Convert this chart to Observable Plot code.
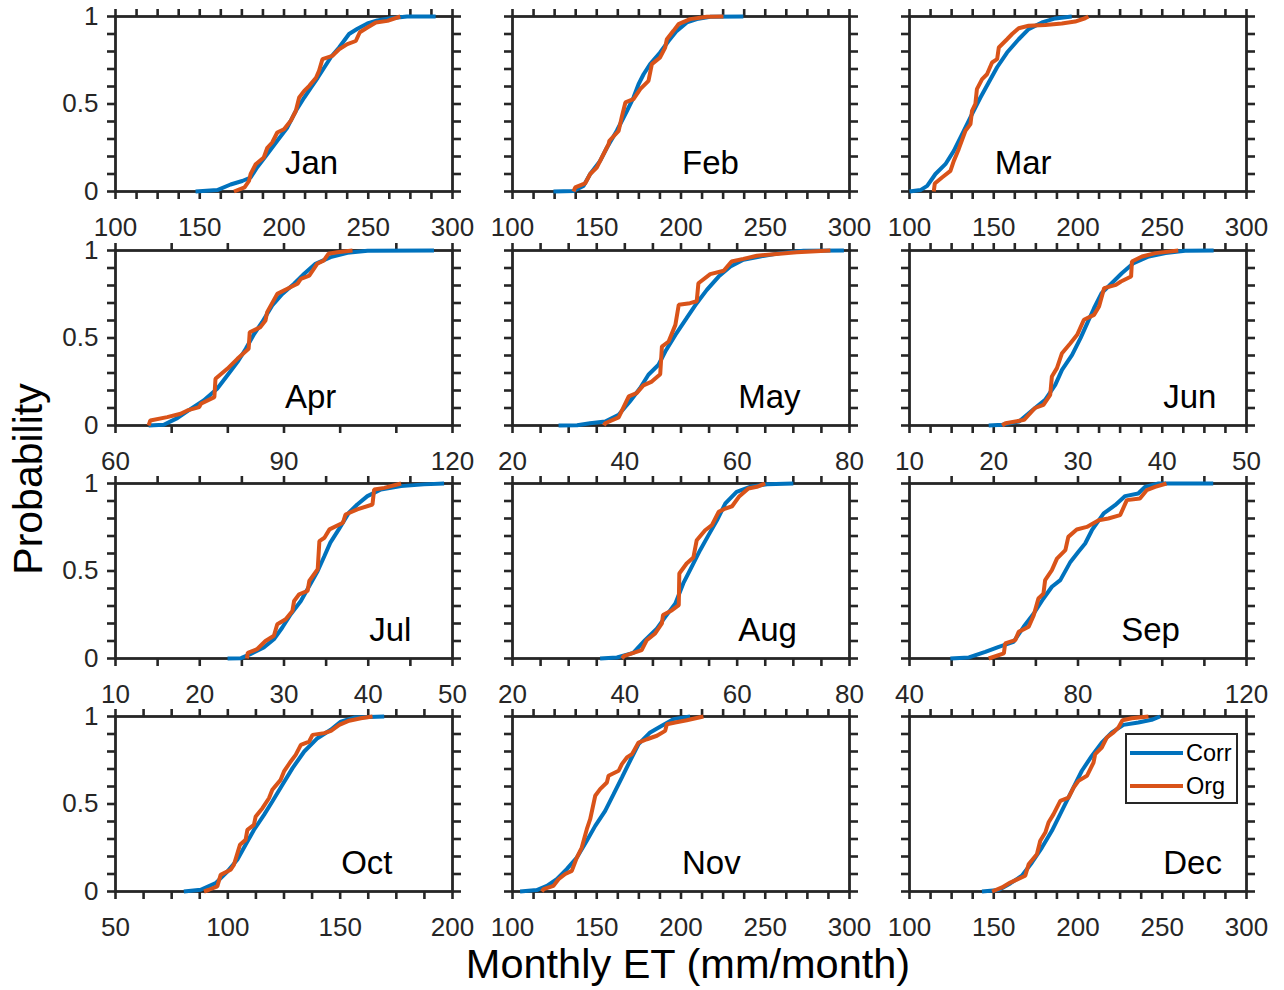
<!DOCTYPE html>
<html>
<head>
<meta charset="utf-8">
<script src="https://cdn.jsdelivr.net/npm/d3@7"></script>
<script src="https://cdn.jsdelivr.net/npm/@observablehq/plot@0.6"></script>
<style>
  body { margin: 0; background: #fff; }
  #fig { position: relative; width: 1284px; height: 990px; overflow: hidden; font-family: "Liberation Sans", Arial, sans-serif; }
  #fig > svg, #fig > div { position: absolute; }
  #fig g[aria-label$="tick"] { stroke-width: 2.6px; }
  #fig g[aria-label="frame"], #fig g[aria-label="frame"] * { stroke-width: 2.8px; }
</style>
</head>
<body>
<div id="fig"></div>
<script>
// ---------- data ----------
const months = ["Jan","Feb","Mar","Apr","May","Jun","Jul","Aug","Sep","Oct","Nov","Dec"];
const seriesNames = ["Corr", "Org"];
const xDomains = [[100,300],[100,300],[100,300],[60,120],[20,80],[10,50],[10,50],[20,80],[40,120],[50,200],[100,300],[100,300]];
const xMajorTicks = [
  [100,150,200,250,300],[100,150,200,250,300],[100,150,200,250,300],
  [60,90,120],[20,40,60,80],[10,20,30,40,50],
  [10,20,30,40,50],[20,40,60,80],[40,80,120],
  [50,100,150,200],[100,150,200,250,300],[100,150,200,250,300]
];
const xMinorStep = [12.5,12.5,12.5,10,5,2.5,5,5,10,12.5,12.5,12.5];
const yTickLabels = [0, 0.5, 1];
const monthLabelX = [200,200,150,90,60,40,40,60,90,150,200,250];
const monthLabelP = 0.1;

const corrJan = [[147.5,0],[160.4,0.008],[168.3,0.04],[175.2,0.06],[180.2,0.08],[184,0.137],[190,0.213],[196,0.29],[202,0.366],[207,0.46],[212,0.537],[216,0.594],[220,0.65],[224,0.71],[228,0.77],[232.7,0.823],[238.6,0.9],[243.6,0.93],[249.5,0.96],[255.4,0.977],[263.4,0.99],[273,1],[290,1]];
const orgJan = [[170.3,0],[176.6,0.023],[179.2,0.06],[180.2,0.1],[183.2,0.156],[188,0.194],[190.1,0.25],[193,0.28],[196,0.337],[200,0.356],[204,0.404],[207,0.46],[209,0.537],[212,0.575],[215,0.604],[219,0.65],[220.8,0.69],[222.8,0.756],[228.7,0.775],[232.7,0.813],[237.6,0.842],[242.6,0.86],[245,0.91],[249.5,0.937],[254.5,0.966],[261.4,0.975],[269,1]];
const corrFeb = [[124.3,0],[136.2,0.003],[142.1,0.032],[146.1,0.1],[152,0.175],[156,0.25],[161.9,0.347],[167.9,0.46],[171.8,0.537],[174.8,0.613],[177.8,0.67],[181.7,0.728],[187.6,0.794],[192.6,0.86],[197.5,0.918],[203.5,0.966],[209.4,0.985],[217.3,0.998],[237,1]];
const orgFeb = [[136.2,0],[137.2,0.023],[143.1,0.046],[146.1,0.1],[150,0.137],[154,0.213],[157,0.27],[157.5,0.29],[163,0.347],[165,0.432],[167,0.509],[171.8,0.528],[175.8,0.585],[180.7,0.632],[182.7,0.728],[187.6,0.766],[190.6,0.823],[191.6,0.87],[195.5,0.918],[198.5,0.956],[205.4,0.985],[215.3,0.998],[225.2,1]];
const corrMar = [[100,0],[106.5,0.008],[110.5,0.032],[115.4,0.1],[121.3,0.156],[126.3,0.232],[132.2,0.347],[137.1,0.442],[142.1,0.537],[147,0.623],[152,0.71],[157.9,0.794],[164.8,0.87],[170.7,0.928],[178.6,0.966],[186.5,0.989],[196.3,1]];
const orgMar = [[114.4,0],[115,0.046],[119.3,0.08],[124.3,0.118],[126.3,0.175],[129.2,0.242],[133.2,0.347],[136.2,0.385],[137.1,0.461],[139.1,0.5],[140,0.585],[143.1,0.642],[146,0.67],[149,0.737],[152,0.756],[153,0.823],[157.9,0.87],[160.9,0.9],[164.8,0.933],[170.7,0.947],[180.6,0.952],[190.4,0.96],[198.3,0.971],[204.2,0.99],[206.2,1]];
const corrApr = [[65.9,0],[68.6,0.004],[71,0.042],[73.4,0.095],[75.7,0.143],[78.1,0.21],[79.9,0.286],[81.7,0.362],[83.2,0.438],[84.7,0.524],[86.1,0.59],[87.9,0.686],[89.7,0.752],[91.8,0.81],[93.6,0.867],[95.6,0.924],[98.3,0.962],[101.3,0.987],[104.9,0.998],[116.7,1]];
const orgApr = [[65.9,0],[66.2,0.029],[69.2,0.048],[71.6,0.067],[72.8,0.086],[74.9,0.105],[75.2,0.124],[77.6,0.162],[77.8,0.267],[79.9,0.324],[81.7,0.381],[83.7,0.438],[83.9,0.533],[85.8,0.562],[86.7,0.6],[87,0.648],[88.8,0.752],[90.6,0.781],[92.4,0.81],[93,0.838],[94.5,0.857],[95.9,0.924],[97.1,0.943],[97.9,0.981],[99.5,0.99],[102.2,1]];
const corrMay = [[28.2,0],[31.5,0.002],[33.8,0.013],[36.5,0.023],[38.9,0.061],[40.9,0.137],[42.7,0.213],[44.2,0.29],[46,0.347],[47.2,0.423],[49,0.518],[51,0.613],[52.8,0.699],[54.6,0.775],[56.7,0.851],[58.8,0.909],[61.1,0.947],[64.1,0.966],[67.7,0.985],[71.8,0.998],[79,1]];
const orgMay = [[36.3,0],[36.5,0.013],[38.9,0.046],[40.7,0.166],[42.1,0.185],[43.3,0.229],[44.8,0.251],[46.3,0.293],[46.6,0.451],[47.8,0.48],[49,0.575],[49.6,0.69],[51.6,0.699],[52.8,0.71],[53.1,0.813],[55.2,0.865],[57.6,0.884],[59,0.937],[61.1,0.952],[63.5,0.97],[66.5,0.979],[70.6,0.99],[76.6,1]];
const corrJun = [[19.4,0],[21,0.004],[23,0.023],[24.9,0.1],[26.1,0.147],[27.3,0.232],[28.1,0.318],[29.3,0.404],[30.3,0.499],[31.1,0.585],[31.9,0.67],[32.8,0.756],[34,0.813],[35.2,0.87],[36.6,0.928],[38.4,0.966],[40.4,0.985],[42.7,0.998],[46.1,1]];
const orgJun = [[21,0],[21.4,0.013],[23.6,0.032],[24.9,0.1],[25.9,0.118],[26.7,0.175],[26.9,0.28],[27.5,0.328],[28.1,0.413],[29.1,0.47],[29.9,0.518],[30.7,0.604],[31.9,0.632],[32.5,0.68],[33.1,0.785],[34.5,0.804],[35.1,0.823],[36.3,0.851],[36.4,0.937],[37.6,0.966],[39.2,0.985],[41.9,1]];
const corrJul = [[23.3,0],[24.9,0.002],[26,0.025],[27.6,0.063],[28.8,0.11],[29.8,0.177],[30.8,0.253],[32,0.329],[33,0.414],[34,0.5],[34.8,0.586],[35.5,0.662],[36.5,0.738],[37.7,0.833],[38.7,0.88],[39.9,0.928],[41.5,0.966],[43.9,0.985],[46.6,0.995],[49,1]];
const orgJul = [[25.6,0],[25.7,0.032],[26.8,0.053],[27.8,0.1],[28.8,0.13],[29.2,0.196],[30.2,0.224],[31,0.272],[31.2,0.329],[31.8,0.367],[32.8,0.386],[33,0.443],[34,0.51],[34.2,0.671],[34.8,0.69],[35.4,0.738],[37,0.776],[37.3,0.823],[38.7,0.852],[40.5,0.88],[40.7,0.966],[41.9,0.975],[43.9,1]];
const corrAug = [[35.6,0],[38.6,0.006],[41.5,0.032],[43.6,0.105],[45.7,0.171],[47.2,0.238],[49,0.314],[50.4,0.429],[51.9,0.524],[53.4,0.619],[54.9,0.705],[56.4,0.79],[57.9,0.886],[59.9,0.952],[62.3,0.981],[65.3,0.996],[70,1]];
const orgAug = [[39.5,0],[39.8,0.013],[43,0.048],[43.9,0.105],[45.4,0.143],[46.6,0.2],[46.8,0.248],[48.4,0.276],[49.6,0.305],[49.7,0.486],[51,0.543],[52.2,0.577],[52.8,0.676],[54.3,0.733],[55.5,0.762],[56.7,0.838],[57.9,0.857],[59.1,0.87],[60.3,0.924],[62,0.971],[63.5,0.981],[65,1]];
const corrSep = [[49.7,0],[54.1,0.006],[58,0.038],[61.2,0.067],[64.7,0.095],[67.1,0.181],[69.5,0.257],[71.8,0.343],[73.8,0.41],[75.8,0.448],[78.2,0.552],[80.1,0.61],[81.7,0.657],[83.3,0.733],[86.1,0.829],[88.8,0.876],[91.2,0.928],[94.3,0.943],[95.9,0.981],[99.1,1],[112.1,1]];
const orgSep = [[58.8,0],[62.4,0.029],[62.7,0.086],[65.1,0.105],[65.9,0.152],[68.3,0.181],[69.5,0.248],[70.6,0.343],[71.8,0.371],[72.2,0.448],[73.8,0.505],[75,0.571],[77,0.619],[77.7,0.695],[79.7,0.737],[82.1,0.752],[84.9,0.79],[87.2,0.8],[90,0.819],[91.6,0.905],[94.7,0.914],[96.3,0.962],[98.3,0.981],[101,1]];
const corrOct = [[80.4,0],[87.9,0.01],[94.6,0.048],[99.8,0.114],[104.2,0.181],[107.9,0.267],[111.6,0.352],[116.1,0.438],[119.8,0.514],[124.3,0.61],[128.8,0.705],[134,0.8],[139.9,0.876],[145.8,0.924],[150.3,0.971],[156.2,0.994],[169.6,1]];
const orgOct = [[89.4,0],[91.6,0.01],[95.3,0.029],[96.8,0.095],[101.2,0.124],[102.7,0.152],[105.4,0.267],[107.9,0.295],[108.7,0.352],[111.6,0.381],[112.4,0.429],[115.4,0.476],[118.3,0.533],[119.8,0.581],[123.5,0.638],[125,0.686],[128,0.743],[130.2,0.781],[132.5,0.838],[136.2,0.857],[137.7,0.895],[142.9,0.905],[145.9,0.918],[149.6,0.952],[154,0.976],[159.2,0.99],[164.4,1]];
const corrNov = [[104.5,0],[114.4,0.008],[120.4,0.032],[126.3,0.07],[132.2,0.128],[138.2,0.194],[144.1,0.29],[149.1,0.375],[155,0.461],[160,0.556],[164.9,0.651],[169.8,0.747],[174.8,0.842],[181.7,0.909],[188.6,0.947],[195.5,0.985],[205.4,1]];
const orgNov = [[117.4,0],[118.4,0.013],[124.3,0.032],[127.3,0.07],[131.3,0.1],[135.2,0.118],[138.2,0.194],[141.1,0.251],[144.1,0.356],[146.1,0.413],[149.1,0.547],[152,0.585],[156,0.623],[157,0.661],[163,0.69],[164.9,0.728],[167.9,0.766],[170.9,0.785],[174.8,0.851],[179.8,0.87],[185.7,0.89],[190.6,0.918],[191.6,0.956],[196.5,0.966],[203.4,0.979],[213.3,1]];
const corrDec = [[143,0],[152.9,0.008],[159.8,0.046],[166.7,0.09],[172.7,0.166],[178.6,0.251],[184.5,0.347],[190.4,0.461],[196.3,0.575],[202.3,0.69],[208.2,0.775],[214.1,0.851],[220.1,0.909],[227,0.952],[235.8,0.966],[243.7,0.981],[248.7,1]];
const orgDec = [[149,0],[154.9,0.023],[159.8,0.051],[168.7,0.09],[170.7,0.156],[175.6,0.213],[177.6,0.29],[180.6,0.337],[182.5,0.394],[185.5,0.442],[189.5,0.518],[194.4,0.537],[197.4,0.594],[200.3,0.632],[205.3,0.661],[209.2,0.737],[210.2,0.785],[214.1,0.823],[217.1,0.88],[221.1,0.909],[224,0.937],[226.4,0.979],[231.9,0.99],[241.8,1]];

const corrAll = [corrJan,corrFeb,corrMar,corrApr,corrMay,corrJun,corrJul,corrAug,corrSep,corrOct,corrNov,corrDec];
const orgAll  = [orgJan,orgFeb,orgMar,orgApr,orgMay,orgJun,orgJul,orgAug,orgSep,orgOct,orgNov,orgDec];

// ---------- style / layout ----------
const COLORS = {Corr: "#0072BD", Org: "#D95319"};
const AXIS = "#262626";
const FONT = "'Liberation Sans', Arial, Helvetica, sans-serif";
const PW = 337, PH = 175;
const colLeft = [115, 512, 909];
const rowTop = [16, 250, 483, 716];
const ML = 60, MR = 35, MT = 14, MB = 50;

const fig = document.getElementById("fig");
const near = (a, b) => Math.abs(a - b) < 1e-9;

months.forEach((m, i) => {
  const col = i % 3, row = Math.floor(i / 3);
  const [x0, x1] = xDomains[i];
  const xTicks = d3.range(0, Math.round((x1 - x0) / xMinorStep[i]) + 1).map(k => x0 + k * xMinorStep[i]);
  const yTicks = d3.range(0, 11).map(k => k / 10);
  const isMajorX = v => xMajorTicks[i].some(t => near(t, v));
  const isMajorY = v => yTickLabels.some(t => near(t, v));
  const lineData = [
    ...corrAll[i].map(([x, p]) => ({x, p, s: "Corr"})),
    ...orgAll[i].map(([x, p]) => ({x, p, s: "Org"}))
  ];
  const axisCommon = {tickSize: 8, strokeWidth: 2.6, stroke: AXIS, label: null};
  const svg = Plot.plot({
    width: PW + ML + MR,
    height: PH + MT + MB,
    marginLeft: ML, marginRight: MR, marginTop: MT, marginBottom: MB,
    style: {background: "transparent", fontFamily: FONT, fontSize: "26px", color: AXIS, overflow: "visible"},
    x: {domain: [x0, x1]},
    y: {domain: [0, 1]},
    color: {domain: seriesNames, range: seriesNames.map(s => COLORS[s])},
    marks: [
      Plot.frame({stroke: AXIS, strokeWidth: 2.8}),
      Plot.axisX({...axisCommon, anchor: "bottom", ticks: xTicks, tickPadding: 18,
        tickFormat: v => isMajorX(v) ? String(v) : "", fill: AXIS}),
      Plot.axisX({...axisCommon, anchor: "top", ticks: xTicks, tickFormat: () => ""}),
      Plot.axisY({...axisCommon, anchor: "left", ticks: yTicks, tickPadding: 9,
        tickFormat: v => (col === 0 && isMajorY(v)) ? String(Math.round(v * 10) / 10) : "", fill: AXIS}),
      Plot.axisY({...axisCommon, anchor: "right", ticks: yTicks, tickFormat: () => ""}),
      Plot.line(lineData, {x: "x", y: "p", z: "s", stroke: "s", strokeWidth: 4,
        strokeLinejoin: "miter", strokeLinecap: "butt"}),
      Plot.text([{t: m, x: monthLabelX[i], p: monthLabelP}], {x: "x", y: "p", text: "t",
        textAnchor: "start", lineAnchor: "bottom", dx: 1, fontSize: 33, fill: "#000"})
    ]
  });
  svg.style.left = (colLeft[col] - ML) + "px";
  svg.style.top = (rowTop[row] - MT) + "px";
  fig.appendChild(svg);
});

// ---------- axis titles ----------
const over = d3.select(fig).append("svg")
  .attr("width", 1284).attr("height", 990)
  .style("left", "0px").style("top", "0px").style("pointer-events", "none");
over.append("text")
  .attr("x", 688).attr("y", 978).attr("text-anchor", "middle")
  .attr("font-family", FONT).attr("font-size", 41.5).attr("fill", "#000")
  .text("Monthly ET (mm/month)");
over.append("text")
  .attr("transform", "translate(42,479) rotate(-90)").attr("text-anchor", "middle")
  .attr("font-family", FONT).attr("font-size", 41).attr("fill", "#000")
  .text("Probability");

// ---------- legend (inside Dec panel) ----------
const leg = d3.select(fig).append("div")
  .style("left", "1125px").style("top", "733px").style("width", "113px").style("height", "71px")
  .style("box-sizing", "border-box").style("border", `2.6px solid ${AXIS}`).style("background", "#fff");
const legSvg = leg.append("svg").attr("width", 109).attr("height", 67).style("display", "block");
seriesNames.forEach((s, k) => {
  const cy = 18 + k * 33;
  legSvg.append("line").attr("x1", 3).attr("x2", 56).attr("y1", cy).attr("y2", cy)
    .attr("stroke", COLORS[s]).attr("stroke-width", 4);
  legSvg.append("text").attr("x", 59).attr("y", cy).attr("dy", "0.35em")
    .attr("font-family", FONT).attr("font-size", 23.5).attr("fill", "#000").text(s);
});
</script>
</body>
</html>
